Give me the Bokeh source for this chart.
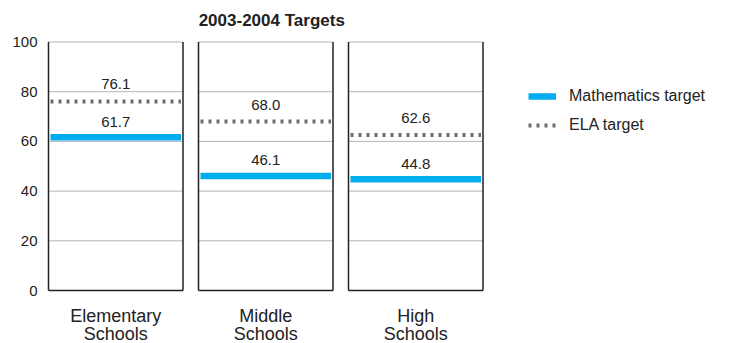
from bokeh.plotting import figure
from bokeh.models import Range1d, FixedTicker, Legend, LegendItem, ColumnDataSource
from bokeh.core.properties import value
from bokeh.embed import file_html
from bokeh.resources import INLINE

# ---- data ----
schools_line1 = ["Elementary", "Middle", "High"]
schools_line2 = ["Schools", "Schools", "Schools"]
math_target = [61.7, 46.1, 44.8]
ela_target = [76.1, 68.0, 62.6]
y_ticks = [0, 20, 40, 60, 80, 100]
title_text = "2003-2004 Targets"

# ---- layout constants ----
W, H = 746, 343
LEFT_BORDER = 46          # room for the y-axis labels
PX_PER_X = 150.0          # one panel pitch in pixels
PANEL_W = 134.5 / PX_PER_X
INSET = 2 / PX_PER_X
Y0_PX, Y100_PX = 290.0, 41.5
PX_PER_Y = (Y0_PX - Y100_PX) / 100.0

FONT = "Liberation Sans"
TEXT_COLOR = "#222222"
BLUE = "#00aeef"
DOT_GRAY = "#6e6e6e"
GRID_GRAY = "#b4b4b4"
BORDER = "#222222"

x_start = -2 / PX_PER_X
x_end = x_start + (W - LEFT_BORDER) / PX_PER_X
y_start = -(H - Y0_PX) / PX_PER_Y
y_end = 100 + Y100_PX / PX_PER_Y

p = figure(width=W, height=H, output_backend="svg", toolbar_location=None,
           x_range=Range1d(x_start, x_end), y_range=Range1d(y_start, y_end),
           min_border_left=LEFT_BORDER, min_border_right=0,
           min_border_top=0, min_border_bottom=0)
p.outline_line_color = None
p.xgrid.visible = False
p.ygrid.visible = False
p.xaxis.visible = False
p.background_fill_color = "white"
p.border_fill_color = "white"

yax = p.yaxis[0]
yax.ticker = FixedTicker(ticks=y_ticks)
yax.axis_line_color = None
yax.major_tick_line_color = None
yax.minor_tick_line_color = None
yax.major_tick_out = 0
yax.major_tick_in = 0
yax.major_label_standoff = 9
yax.major_label_text_font = FONT
yax.major_label_text_font_size = "15px"
yax.major_label_text_color = TEXT_COLOR

n = len(schools_line1)
lefts = [float(i) for i in range(n)]
rights = [l + PANEL_W for l in lefts]
centers = [l + PANEL_W / 2 for l in lefts]

# gridlines inside each panel
gx0, gx1, gy = [], [], []
for l, r in zip(lefts, rights):
    for t in y_ticks[1:]:
        gx0.append(l)
        gx1.append(r)
        gy.append(t)
p.segment(x0=gx0, x1=gx1, y0=gy, y1=gy, line_color=GRID_GRAY, line_width=1)

# panel frames: left, right and bottom edges
bx0 = lefts + rights + lefts
bx1 = lefts + rights + rights
by0 = [0] * n + [0] * n + [0] * n
by1 = [100] * n + [100] * n + [0] * n
p.segment(x0=bx0, x1=bx1, y0=by0, y1=by1, line_color=BORDER, line_width=1.5)

# target lines
src = ColumnDataSource(dict(
    x0=[l + INSET for l in lefts], x1=[r - INSET for r in rights],
    cx=centers, math=math_target, ela=ela_target,
    math_lbl=[f"{v:.1f}" for v in math_target],
    ela_lbl=[f"{v:.1f}" for v in ela_target],
    cat1=schools_line1, cat2=schools_line2,
))
ela_r = p.segment(x0="x0", x1="x1", y0="ela", y1="ela", source=src,
                  line_color=DOT_GRAY, line_width=4, line_dash="3 5")
math_r = p.segment(x0="x0", x1="x1", y0="math", y1="math", source=src,
                   line_color=BLUE, line_width=6.5)

# value labels above the lines
common = dict(source=src, text_font=value(FONT), text_font_size="15px",
              text_color=TEXT_COLOR, text_align="center",
              text_baseline="alphabetic")
p.text(x="cx", y="ela", text="ela_lbl", y_offset=-17, **common)
p.text(x="cx", y="math", text="math_lbl", y_offset=-15.5, **common)

# category labels under the panels
cat = dict(source=src, text_font=value(FONT), text_font_size="18px",
           text_color=TEXT_COLOR, text_align="center",
           text_baseline="alphabetic")
p.text(x="cx", y=0, text="cat1", y_offset=25, **cat)
p.text(x="cx", y=0, text="cat2", y_offset=43, **cat)

# title over the panels
p.text(x=[(lefts[0] + rights[-1]) / 2 + 0.04], y=[100], text=[title_text],
       y_offset=-21.5, text_font=value(FONT), text_font_size="17px",
       text_font_style="bold", text_color=TEXT_COLOR, text_align="center",
       text_baseline="alphabetic")

legend = Legend(items=[LegendItem(label="Mathematics target", renderers=[math_r]),
                       LegendItem(label="ELA target", renderers=[ela_r])],
                location=(482, 208), orientation="vertical",
                glyph_width=28, glyph_height=20, label_height=20,
                label_standoff=13, spacing=9, padding=0, margin=0,
                border_line_color=None, background_fill_alpha=0,
                label_text_font=FONT, label_text_font_size="16px",
                label_text_color=TEXT_COLOR)
p.add_layout(legend)

open("out.html", "w").write(file_html(p, INLINE))
